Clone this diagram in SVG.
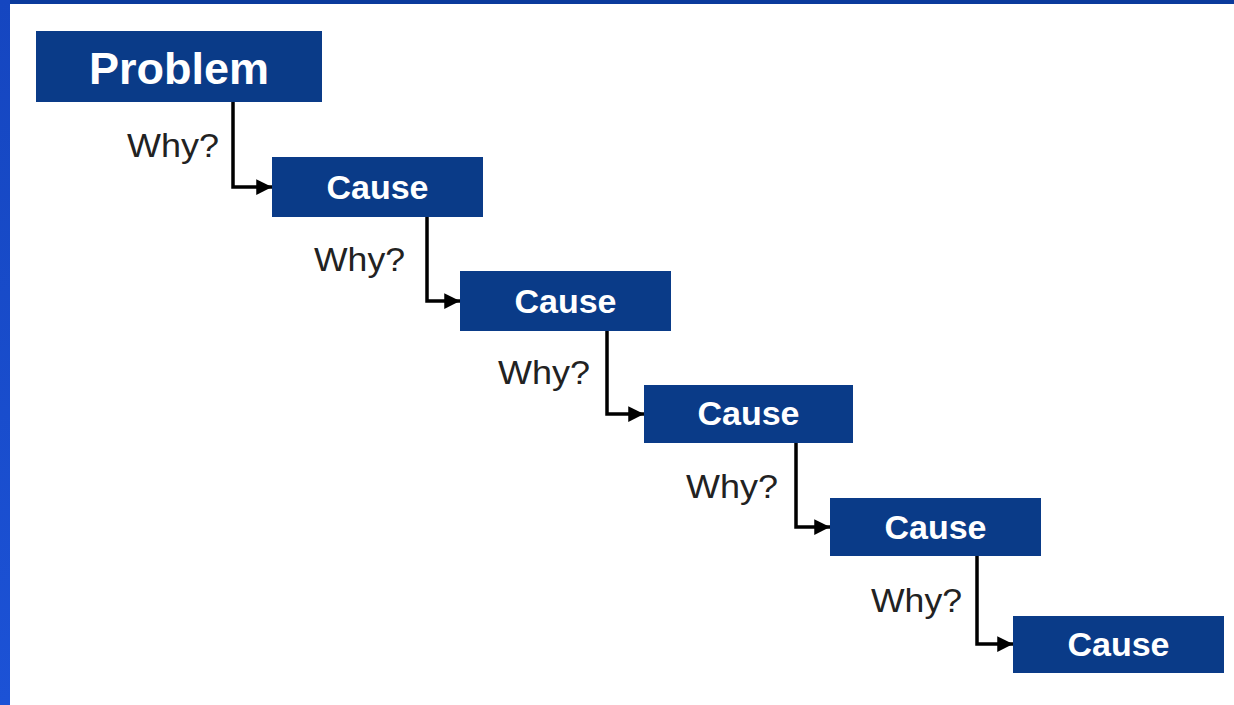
<svg xmlns="http://www.w3.org/2000/svg" width="1234" height="705" viewBox="0 0 1234 705">
  <defs>
    <style>
      .box { fill: #0a3b88; }
      .ptext { font-family: "Liberation Sans", Arial, sans-serif; font-weight: bold; font-size: 45px; fill: #ffffff; text-anchor: middle; }
      .ctext { font-family: "Liberation Sans", Arial, sans-serif; font-weight: bold; font-size: 34px; fill: #ffffff; text-anchor: middle; }
      .why { font-family: "Liberation Sans", Arial, sans-serif; font-size: 33px; fill: #222222; }
      .conn { fill: none; stroke: #000000; stroke-width: 3.5; }
    </style>
    <marker id="arrow" viewBox="0 0 10 10" refX="10" refY="5" markerWidth="4.5" markerHeight="4.5" orient="auto" markerUnits="strokeWidth">
      <path d="M0,0 L10,5 L0,10 z" fill="#000000"/>
    </marker>
    <linearGradient id="lg" x1="0" y1="0" x2="0" y2="1">
      <stop offset="0" stop-color="#1546c0"/>
      <stop offset="1" stop-color="#1c52d6"/>
    </linearGradient>
  </defs>
  <rect x="0" y="0" width="1234" height="705" fill="#ffffff"/>
  <rect x="0" y="0" width="1234" height="4" fill="#0a3a9c"/>
  <rect x="0" y="0" width="10" height="705" fill="url(#lg)"/>

  <g id="connectors">
    <path class="conn" d="M233,102 V187 H272" marker-end="url(#arrow)"/>
    <path class="conn" d="M427,217 V301 H460" marker-end="url(#arrow)"/>
    <path class="conn" d="M607,331 V414 H644" marker-end="url(#arrow)"/>
    <path class="conn" d="M796,443 V527 H830" marker-end="url(#arrow)"/>
    <path class="conn" d="M977,556 V644 H1013" marker-end="url(#arrow)"/>
  </g>

  <g id="labels">
    <text class="why" x="127" y="157" textLength="92" lengthAdjust="spacingAndGlyphs">Why?</text>
    <text class="why" x="314" y="271" textLength="91" lengthAdjust="spacingAndGlyphs">Why?</text>
    <text class="why" x="498" y="384" textLength="92" lengthAdjust="spacingAndGlyphs">Why?</text>
    <text class="why" x="686" y="498" textLength="92" lengthAdjust="spacingAndGlyphs">Why?</text>
    <text class="why" x="871" y="612" textLength="91" lengthAdjust="spacingAndGlyphs">Why?</text>
  </g>

  <g id="problem">
    <rect class="box" x="36" y="31" width="286" height="71"/>
    <text class="ptext" x="179" y="84">Problem</text>
  </g>
  <g id="cause1">
    <rect class="box" x="272" y="157" width="211" height="60"/>
    <text class="ctext" x="377.5" y="199">Cause</text>
  </g>
  <g id="cause2">
    <rect class="box" x="460" y="271" width="211" height="60"/>
    <text class="ctext" x="565.5" y="313">Cause</text>
  </g>
  <g id="cause3">
    <rect class="box" x="644" y="385" width="209" height="58"/>
    <text class="ctext" x="748.5" y="425">Cause</text>
  </g>
  <g id="cause4">
    <rect class="box" x="830" y="498" width="211" height="58"/>
    <text class="ctext" x="935.5" y="539">Cause</text>
  </g>
  <g id="cause5">
    <rect class="box" x="1013" y="616" width="211" height="57"/>
    <text class="ctext" x="1118.5" y="656">Cause</text>
  </g>
</svg>
